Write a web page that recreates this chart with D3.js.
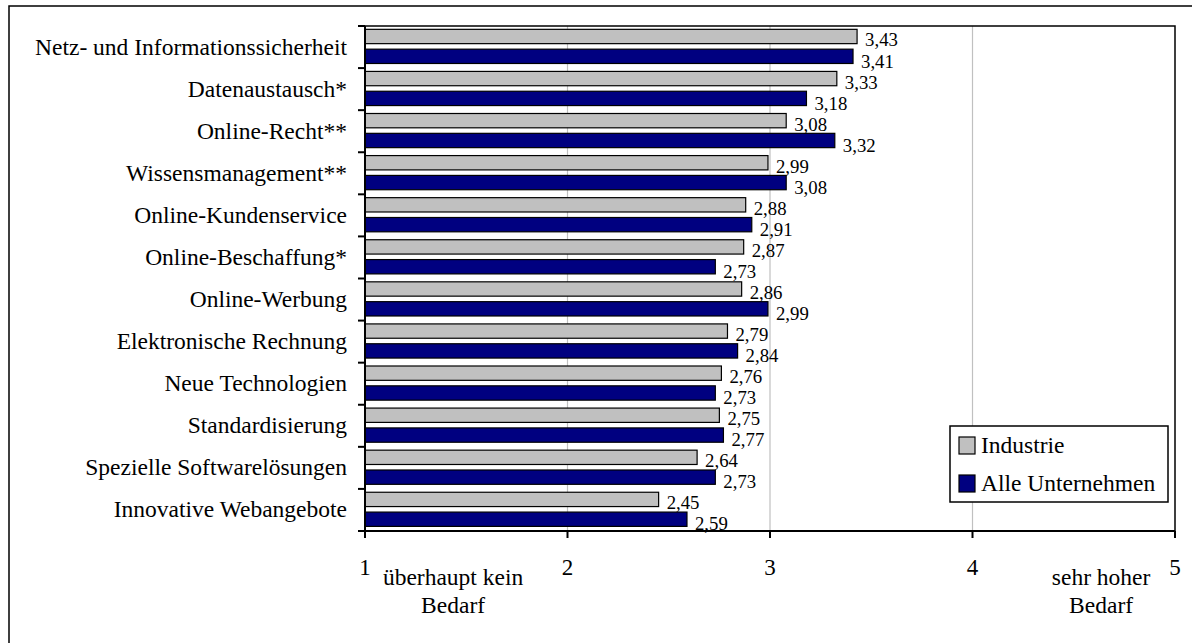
<!DOCTYPE html>
<html><head><meta charset="utf-8">
<script src="https://cdn.jsdelivr.net/npm/d3@7"></script>
<style>
html,body{margin:0;padding:0;background:#fff;}
svg{display:block;}
svg text{font-family:"Liberation Serif","Times New Roman",serif;}
</style></head>
<body>
<script>
const categories = ["Netz- und Informationssicherheit","Datenaustausch*","Online-Recht**","Wissensmanagement**","Online-Kundenservice","Online-Beschaffung*","Online-Werbung","Elektronische Rechnung","Neue Technologien","Standardisierung","Spezielle Softwarelösungen","Innovative Webangebote"];
const seriesNames = ["Industrie","Alle Unternehmen"];
const industrie = [3.43,3.33,3.08,2.99,2.88,2.87,2.86,2.79,2.76,2.75,2.64,2.45];
const alleUnternehmen = [3.41,3.18,3.32,3.08,2.91,2.73,2.99,2.84,2.73,2.77,2.73,2.59];
const xTicks = [1,2,3,4,5];
const colors = ["#c0c0c0","#000080"];

(function(){
const W = 1192, H = 643;
const svg = d3.select("body").append("svg").attr("width", W).attr("height", H);

svg.append("rect").attr("x",9).attr("y",6).attr("width",1200).attr("height",660)
  .attr("fill","none").attr("stroke","#000").attr("stroke-width",1.5);

const pL = 365, pR = 1175, pT = 26, pB = 531;
const x = d3.scaleLinear().domain([1,5]).range([pL,pR]);
const y = d3.scaleBand().domain(categories).range([pT,pB]).paddingInner(0).paddingOuter(0);
const ys = d3.scaleBand().domain(seriesNames).range([0,y.bandwidth()]).paddingInner(0.278).paddingOuter(0.2).align(0.42);

const g = svg.append("g");

g.selectAll("line.grid").data(xTicks.slice(1,-1)).join("line")
  .attr("x1",d=>x(d)).attr("x2",d=>x(d)).attr("y1",pT).attr("y2",pB)
  .attr("stroke","#c0c0c0").attr("stroke-width",1.2);

g.append("path").attr("d",`M${pL},${pT}H${pR}V${pB}`).attr("fill","none")
  .attr("stroke","#000").attr("stroke-width",1.5);

const data = [];
categories.forEach((c,i)=>{
  data.push({cat:c, s:seriesNames[0], v:industrie[i], col:colors[0], k:0});
  data.push({cat:c, s:seriesNames[1], v:alleUnternehmen[i], col:colors[1], k:1});
});

g.selectAll("rect.bar").data(data).join("rect")
  .attr("x",x(1)).attr("y",d=>y(d.cat)+ys(d.s))
  .attr("width",d=>x(d.v)-x(1)).attr("height",ys.bandwidth())
  .attr("fill",d=>d.col).attr("stroke","#000").attr("stroke-width",1.2);

const fmt = d=>d3.format(".2f")(d).replace(".",",");
g.selectAll("text.val").data(data).join("text")
  .attr("x",d=>x(d.v)+8).attr("y",d=>y(d.cat)+ys(d.s)+ys.bandwidth()/2+(d.k===0?10:11.25))
  .attr("font-size","18.8px").attr("fill","#000").text(d=>fmt(d.v));

const yAxisG = svg.append("g").attr("transform",`translate(${pL},0)`);
yAxisG.append("line").attr("x1",0).attr("x2",0).attr("y1",pT).attr("y2",pB).attr("stroke","#000").attr("stroke-width",2);
const bounds = categories.map(c=>y(c)).concat([pB]);
yAxisG.selectAll("line.t").data(bounds).join("line")
  .attr("x1",-7).attr("x2",0).attr("y1",d=>d).attr("y2",d=>d).attr("stroke","#000").attr("stroke-width",2);
yAxisG.selectAll("text").data(categories).join("text")
  .attr("x",-18).attr("y",d=>y(d)+y.bandwidth()/2+7.5).attr("text-anchor","end")
  .attr("font-size","23.5px").attr("fill","#000").text(d=>d);

const xAxisG = svg.append("g").attr("transform",`translate(0,${pB})`);
xAxisG.append("line").attr("x1",pL).attr("x2",pR).attr("y1",0).attr("y2",0).attr("stroke","#000").attr("stroke-width",2);
xAxisG.selectAll("line.t").data(xTicks).join("line")
  .attr("x1",d=>x(d)).attr("x2",d=>x(d)).attr("y1",0).attr("y2",7).attr("stroke","#000").attr("stroke-width",2);
xAxisG.selectAll("text.t").data(xTicks).join("text")
  .attr("x",d=>x(d)).attr("y",44).attr("text-anchor","middle")
  .attr("font-size","23px").attr("fill","#000").text(d=>d);

const ann = [{lines:["überhaupt kein","Bedarf"], v:1.435},{lines:["sehr hoher","Bedarf"], v:4.635}];
ann.forEach(a=>{
  a.lines.forEach((t,i)=>{
    svg.append("text").attr("x",x(a.v)).attr("y",585+i*28).attr("text-anchor","middle")
      .attr("font-size","23.5px").attr("fill","#000").text(t);
  });
});

const lg = svg.append("g");
lg.append("rect").attr("x",950).attr("y",426).attr("width",218).attr("height",76)
  .attr("fill","#fff").attr("stroke","#000").attr("stroke-width",1.5);
seriesNames.forEach((s,i)=>{
  lg.append("rect").attr("x",959).attr("y",437+i*38).attr("width",16).attr("height",17)
    .attr("fill",colors[i]).attr("stroke","#000").attr("stroke-width",1.2);
  lg.append("text").attr("x",981).attr("y",453+i*38).attr("font-size","23.5px").attr("fill","#000").text(s);
});
})();
</script>
</body></html>
